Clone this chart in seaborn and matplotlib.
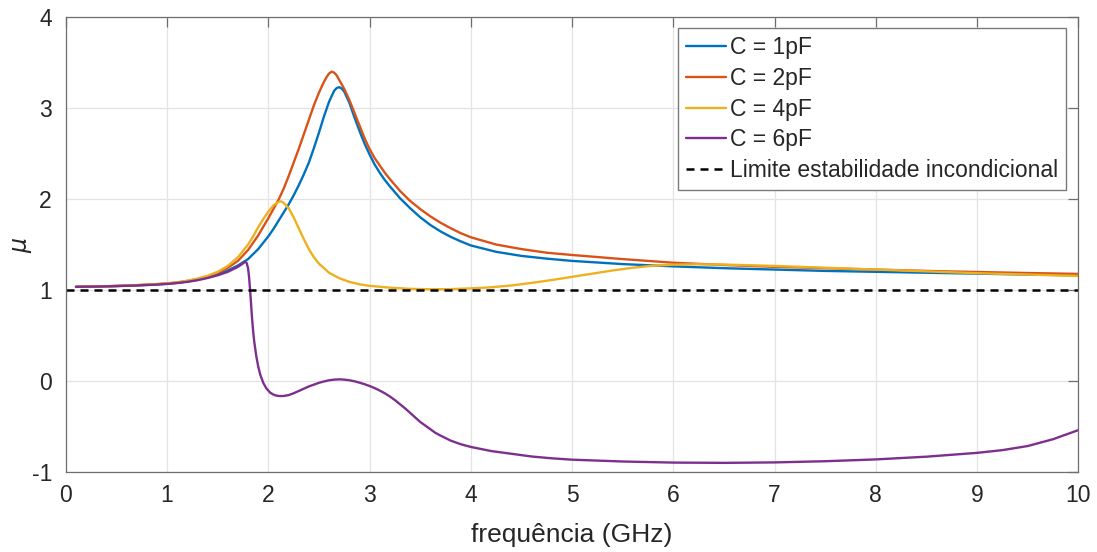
import numpy as np
import pandas as pd
import matplotlib
matplotlib.use("Agg")
import matplotlib.pyplot as plt
import seaborn as sns

# ---- data ----
x_c1 = [0.1, 0.3, 0.5, 0.7, 0.9, 1.0, 1.1, 1.2, 1.3, 1.4, 1.5, 1.6, 1.7, 1.8, 1.9,
        2.0, 2.05, 2.1, 2.15, 2.2, 2.25, 2.3, 2.35, 2.4, 2.45, 2.5, 2.55, 2.6, 2.65, 2.675, 2.7,
        2.725, 2.75, 2.8, 2.85, 2.9, 2.95, 3.0, 3.05, 3.1, 3.15, 3.2, 3.3, 3.4, 3.5, 3.6, 3.7,
        3.8, 3.9, 4.0, 4.25, 4.5, 4.75, 5.0, 5.5, 6.0, 6.5, 7.0, 7.5, 8.0, 8.5, 9.0, 9.5, 10.0]
y_c1 = [1.035, 1.038, 1.044, 1.051, 1.062, 1.069, 1.079, 1.093, 1.112, 1.138, 1.172, 1.215, 1.27, 1.34,
        1.45, 1.59, 1.67, 1.76, 1.85, 1.94, 2.04, 2.15, 2.27, 2.40, 2.56, 2.73, 2.91, 3.07, 3.19, 3.22,
        3.23, 3.215, 3.18, 3.06, 2.90, 2.75, 2.61, 2.49, 2.38, 2.29, 2.21, 2.14, 2.01, 1.90, 1.80, 1.715,
        1.645, 1.585, 1.535, 1.49, 1.42, 1.375, 1.345, 1.32, 1.285, 1.26, 1.24, 1.225, 1.21, 1.20,
        1.19, 1.18, 1.17, 1.162]

x_c2 = [0.1, 0.3, 0.5, 0.7, 0.9, 1.0, 1.1, 1.2, 1.3, 1.4, 1.5, 1.6, 1.7, 1.8, 1.9,
        2.0, 2.05, 2.1, 2.15, 2.2, 2.25, 2.3, 2.35, 2.4, 2.45, 2.5, 2.55, 2.575, 2.6, 2.625, 2.65,
        2.675, 2.7, 2.75, 2.8, 2.85, 2.9, 2.95, 3.0, 3.05, 3.1, 3.15, 3.2, 3.3, 3.4, 3.5, 3.6, 3.7,
        3.8, 3.9, 4.0, 4.25, 4.5, 4.75, 5.0, 5.5, 6.0, 6.5, 7.0, 7.5, 8.0, 8.5, 9.0, 9.5, 10.0]
y_c2 = [1.035, 1.039, 1.045, 1.053, 1.065, 1.072, 1.083, 1.099, 1.121, 1.15, 1.19, 1.245, 1.32, 1.44,
        1.60, 1.79, 1.89, 1.99, 2.11, 2.25, 2.40, 2.55, 2.71, 2.87, 3.03, 3.17, 3.29, 3.34, 3.38, 3.40,
        3.39, 3.36, 3.31, 3.21, 3.09, 2.95, 2.81, 2.67, 2.55, 2.45, 2.37, 2.29, 2.22, 2.09, 1.98, 1.89,
        1.81, 1.74, 1.68, 1.625, 1.58, 1.50, 1.45, 1.41, 1.385, 1.34, 1.30, 1.275, 1.255, 1.24, 1.225,
        1.21, 1.198, 1.187, 1.177]

x_c4 = [0.1, 0.3, 0.5, 0.7, 0.9, 1.0, 1.1, 1.2, 1.3, 1.4, 1.5, 1.6, 1.7, 1.8, 1.85, 1.9, 1.95,
        2.0, 2.05, 2.1, 2.125, 2.15, 2.2, 2.25, 2.3, 2.35, 2.4, 2.45, 2.5, 2.6, 2.7, 2.8, 2.9, 3.0,
        3.2, 3.4, 3.6, 3.8, 4.0, 4.2, 4.4, 4.6, 4.8, 5.0, 5.2, 5.4, 5.6, 5.8, 6.0, 6.25, 6.5, 7.0,
        7.5, 8.0, 8.5, 9.0, 9.5, 10.0]
y_c4 = [1.035, 1.039, 1.045, 1.054, 1.066, 1.073, 1.085, 1.102, 1.125, 1.157, 1.20, 1.265, 1.36, 1.50,
        1.59, 1.69, 1.78, 1.86, 1.93, 1.968, 1.975, 1.96, 1.90, 1.80, 1.68, 1.56, 1.45, 1.36, 1.29,
        1.19, 1.13, 1.09, 1.063, 1.046, 1.026, 1.013, 1.008, 1.01, 1.018, 1.03, 1.05, 1.078, 1.11,
        1.145, 1.18, 1.215, 1.245, 1.267, 1.279, 1.283, 1.28, 1.265, 1.245, 1.225, 1.205, 1.185,
        1.17, 1.155]

x_c6 = [0.1, 0.3, 0.5, 0.7, 0.9, 1.0, 1.1, 1.2, 1.3, 1.4, 1.5, 1.6, 1.7, 1.74, 1.77, 1.785, 1.80,
        1.81, 1.82, 1.83, 1.84, 1.85, 1.86, 1.88, 1.90, 1.92, 1.95, 1.98, 2.02, 2.06, 2.1, 2.15, 2.2,
        2.25, 2.3, 2.35, 2.4, 2.45, 2.5, 2.55, 2.6, 2.65, 2.7, 2.75, 2.8, 2.85, 2.9, 2.95, 3.0, 3.05,
        3.1, 3.15, 3.2, 3.25, 3.3, 3.35, 3.4, 3.45, 3.5, 3.55, 3.6, 3.65, 3.7, 3.8, 3.9, 4.0, 4.2,
        4.4, 4.6, 4.8, 5.0, 5.5, 6.0, 6.5, 7.0, 7.5, 8.0, 8.5, 9.0, 9.25, 9.5, 9.75, 10.0]
y_c6 = [1.035, 1.038, 1.043, 1.05, 1.06, 1.067, 1.077, 1.09, 1.108, 1.132, 1.162, 1.2, 1.255, 1.285,
        1.31, 1.30, 1.24, 1.14, 1.00, 0.84, 0.68, 0.55, 0.44, 0.28, 0.16, 0.07, -0.02, -0.08, -0.13,
        -0.155, -0.165, -0.165, -0.155, -0.135, -0.11, -0.085, -0.06, -0.04, -0.02, -0.005, 0.008,
        0.015, 0.018, 0.015, 0.008, -0.003, -0.018, -0.035, -0.055, -0.078, -0.105, -0.135, -0.17,
        -0.21, -0.255, -0.30, -0.35, -0.40, -0.45, -0.49, -0.53, -0.57, -0.60, -0.655, -0.695, -0.725,
        -0.77, -0.80, -0.83, -0.85, -0.865, -0.885, -0.897, -0.90, -0.895, -0.882, -0.862, -0.832,
        -0.79, -0.76, -0.715, -0.64, -0.54]

x_lim = [0.0, 10.0]
y_lim = [1.0, 1.0]

labels = ["C = 1pF", "C = 2pF", "C = 4pF", "C = 6pF"]
colors = ["#0072BD", "#D95319", "#EDB120", "#7E2F8E"]
limit_label = "Limite estabilidade incondicional"

xticks = [0, 1, 2, 3, 4, 5, 6, 7, 8, 9, 10]
yticks = [-1, 0, 1, 2, 3, 4]

# ---- build long table ----
frames = []
for lab, xs, ys in zip(labels, [x_c1, x_c2, x_c4, x_c6], [y_c1, y_c2, y_c4, y_c6]):
    frames.append(pd.DataFrame({"f": xs, "mu": ys, "serie": lab}))
df = pd.concat(frames, ignore_index=True)
df_lim = pd.DataFrame({"f": x_lim, "mu": y_lim, "serie": limit_label})

sns.set_style("white")
plt.rcParams["font.family"] = ["Liberation Sans", "DejaVu Sans"]

fig = plt.figure(figsize=(10.97, 5.52), dpi=100)
ax = fig.add_axes([0.060, 0.145, 0.923, 0.824])

sns.lineplot(data=df, x="f", y="mu", hue="serie", hue_order=labels, palette=colors,
             sort=False, estimator=None, linewidth=1.7, ax=ax)
sns.lineplot(data=df_lim, x="f", y="mu", color="black", linestyle=(0, (3.2, 2.4)),
             linewidth=1.8, label=limit_label, ax=ax)

ax.set_xlim(0, 10)
ax.set_ylim(-1, 4)
ax.set_xticks(xticks)
ax.set_yticks(yticks)
ax.set_xticklabels([str(t) for t in xticks])
ax.set_yticklabels([str(t) for t in yticks])
ax.grid(True, color="#e3e3e3", linewidth=0.9)
ax.set_axisbelow(True)
for s in ax.spines.values():
    s.set_color("#6e6e6e")
    s.set_linewidth(0.9)
ax.tick_params(direction="in", length=7, width=0.9, color="#6e6e6e", labelsize=16.5,
               labelcolor="#262626", top=True, right=True)
ax.tick_params(axis="x", pad=9)
ax.tick_params(axis="y", pad=10)

ax.set_xlabel("frequência (GHz)", fontsize=19, color="#262626", labelpad=11)
ax.set_ylabel(r"$\mu$", fontsize=17, color="#262626", labelpad=-2)

leg = ax.legend(loc="upper right", bbox_to_anchor=(0.988, 0.976), fontsize=16.5, frameon=True,
                fancybox=False, edgecolor="#7a7a7a", framealpha=1, handlelength=1.75,
                handletextpad=0.18, borderpad=0.35, labelspacing=0.34, borderaxespad=0)
leg.get_frame().set_linewidth(1.0)
for t in leg.get_texts():
    t.set_color("#262626")

fig.savefig("out.png", dpi=100)
